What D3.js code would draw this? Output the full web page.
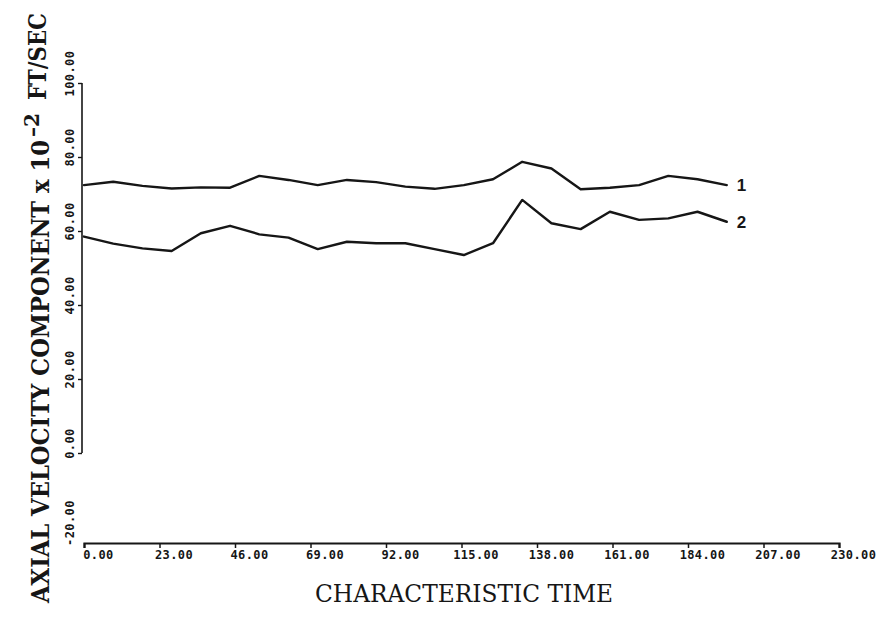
<!DOCTYPE html>
<html>
<head>
<meta charset="utf-8">
<script src="https://cdn.jsdelivr.net/npm/d3@7"></script>
<style>
  html, body { margin: 0; padding: 0; background: #fff; }
  svg { display: block; }
</style>
</head>
<body>
<svg id="chart" width="882" height="618"></svg>
<script>
// ---- data ----
const timeValues = [0, 8.9, 17.8, 26.7, 35.6, 44.5, 53.4, 62.3, 71.2, 80.1, 89, 97.9, 106.8, 115.7, 124.6, 133.5, 142.4, 151.3, 160.2, 169.1, 178, 186.9, 195.8];
const curve1 = [72.4, 73.3, 72.2, 71.5, 71.8, 71.7, 74.9, 73.8, 72.4, 73.8, 73.2, 72.0, 71.4, 72.4, 74.0, 78.7, 76.9, 71.3, 71.7, 72.4, 74.9, 74.0, 72.4];
const curve2 = [58.5, 56.6, 55.3, 54.6, 59.4, 61.4, 59.1, 58.2, 55.1, 57.1, 56.7, 56.7, 55.1, 53.5, 56.7, 68.4, 62.1, 60.5, 65.2, 63.0, 63.4, 65.2, 62.5];
const curveLabels = ["1", "2"];
const xTicks = [0, 23, 46, 69, 92, 115, 138, 161, 184, 207, 230];
const yTicks = [0, 20, 40, 60, 80, 100];
const yFloor = -20;
const xTitle = "CHARACTERISTIC TIME";
const yTitleMain = "AXIAL VELOCITY COMPONENT x 10";
const yTitleSup = "\u20132";
const yTitleUnit = "FT/SEC";

// ---- scales ----
const svg = d3.select("#chart");
const x = d3.scaleLinear().domain([0, 230]).range([84, 839]);
const y = d3.scaleLinear().domain([yFloor, 0, 100]).range([543, 453, 83]);

const tickFont = "'DejaVu Sans Mono', monospace";
const ink = "#161616";

// ---- x axis ----
const gx = svg.append("g").attr("transform", `translate(0,${y(yFloor)})`)
  .call(d3.axisBottom(x).tickValues(xTicks).tickSize(5).tickPadding(4)
    .tickFormat(d => d.toFixed(2)));
gx.select(".domain").attr("stroke", ink).attr("stroke-width", 2.2);
gx.selectAll(".tick line").attr("stroke", ink).attr("stroke-width", 1.5);
gx.selectAll(".tick text")
  .attr("dx", 14).attr("dy", "0.55em")
  .attr("fill", ink)
  .style("font-family", tickFont).style("font-weight", "bold")
  .style("font-size", "12px").style("letter-spacing", "0.4px");

// ---- y axis (drawn from 0 to 100 only) ----
const gy = svg.append("g").attr("transform", `translate(82,0)`)
  .call(d3.axisLeft(y).tickValues(yTicks).tickSize(4).tickFormat(d => d.toFixed(2)));
gy.select(".domain").remove();
gy.append("line").attr("x1", 0).attr("x2", 0)
  .attr("y1", y(0)).attr("y2", y(100))
  .attr("stroke", ink).attr("stroke-width", 1.6);
gy.selectAll(".tick line").attr("stroke", ink).attr("stroke-width", 1.4);
gy.selectAll(".tick text")
  .attr("x", null).attr("dy", null)
  .attr("text-anchor", "middle")
  .attr("transform", "translate(-8,-10) rotate(-90)")
  .attr("fill", ink)
  .style("font-family", tickFont).style("font-weight", "bold")
  .style("font-size", "12px").style("letter-spacing", "0.4px");

// floor label (-20.00) sits by the x axis
svg.append("text")
  .attr("transform", `translate(${82 - 8},${y(yFloor) - 20}) rotate(-90)`)
  .attr("text-anchor", "middle")
  .attr("fill", ink)
  .style("font-family", tickFont).style("font-weight", "bold")
  .style("font-size", "12px").style("letter-spacing", "0.4px")
  .text(yFloor.toFixed(2));

// ---- curves ----
const line = d3.line().x((d, i) => x(timeValues[i])).y(d => y(d));
[curve1, curve2].forEach((s, k) => {
  svg.append("path").datum(s)
    .attr("d", line)
    .attr("fill", "none").attr("stroke", ink)
    .attr("stroke-width", 2.4)
    .attr("stroke-linejoin", "round").attr("stroke-linecap", "round");
  const last = s.length - 1;
  svg.append("text")
    .attr("x", x(timeValues[last]) + 10)
    .attr("y", y(s[last]))
    .attr("dy", "0.36em")
    .attr("fill", ink)
    .style("font-family", "'Liberation Sans', Arial, sans-serif")
    .style("font-weight", "bold").style("font-size", "17px")
    .text(curveLabels[k]);
});

// ---- titles ----
const titleFont = "'DejaVu Serif', 'Liberation Serif', serif";
svg.append("text")
  .attr("x", 315).attr("y", 602)
  .attr("textLength", 298).attr("lengthAdjust", "spacingAndGlyphs")
  .attr("fill", ink)
  .style("font-family", titleFont).style("font-size", "24px")
  .text(xTitle);

svg.append("text")
  .attr("transform", "translate(49,603) rotate(-90)")
  .attr("textLength", 463).attr("lengthAdjust", "spacingAndGlyphs")
  .attr("fill", ink)
  .style("font-family", titleFont).style("font-weight", "bold").style("font-size", "24px")
  .text(yTitleMain);
svg.append("text")
  .attr("transform", "translate(39,137) rotate(-90)")
  .attr("textLength", 24).attr("lengthAdjust", "spacingAndGlyphs")
  .attr("fill", ink)
  .style("font-family", titleFont).style("font-weight", "bold").style("font-size", "20px")
  .text(yTitleSup);
svg.append("text")
  .attr("transform", "translate(46,100) rotate(-90)")
  .attr("textLength", 87).attr("lengthAdjust", "spacingAndGlyphs")
  .attr("fill", ink)
  .style("font-family", titleFont).style("font-weight", "bold").style("font-size", "24px")
  .text(yTitleUnit);
</script>
</body>
</html>
